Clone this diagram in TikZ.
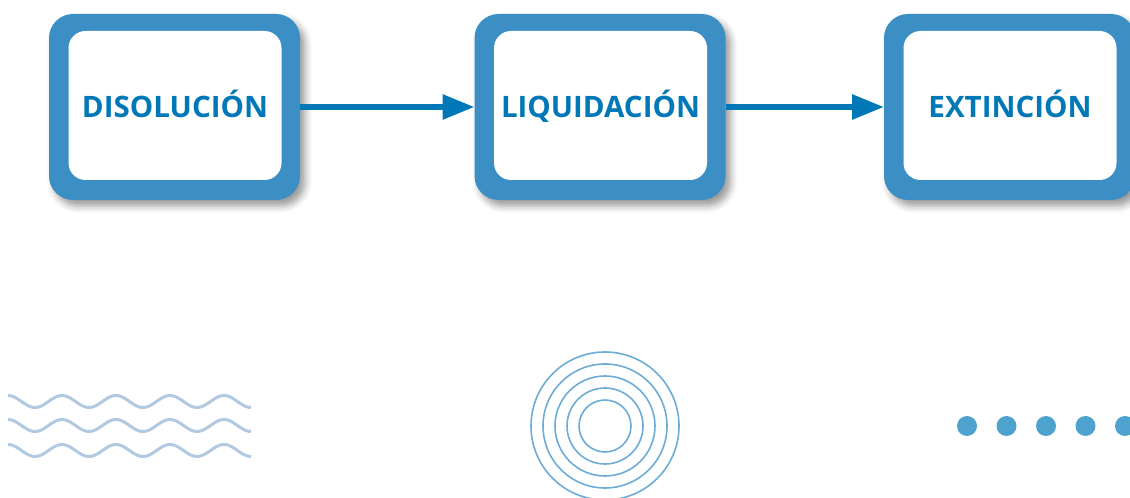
\documentclass[tikz,border=0pt]{standalone}
\usepackage{fontspec}
\setsansfont{Open Sans}
\usetikzlibrary{arrows.meta,shadows.blur}
\definecolor{stageblue}{RGB}{60,143,196}
\definecolor{textblue}{RGB}{0,120,184}
\definecolor{wavegrey}{RGB}{178,201,226}
\definecolor{ringblue}{RGB}{108,172,214}
\definecolor{dotblue}{RGB}{78,163,206}

\begin{document}
\begin{tikzpicture}[x=1pt, y=1pt,
  stage/.style={fill=stageblue, rounded corners=24pt, minimum width=251pt, minimum height=186pt,
    inner sep=0pt, outer sep=0pt,
    blur shadow={shadow xshift=5pt, shadow yshift=-6pt, shadow blur radius=7pt, shadow opacity=40}},
  stagein/.style={fill=white, rounded corners=17pt, minimum width=213pt, minimum height=149pt,
    inner sep=0pt, text height=30pt, text depth=6pt,
    font=\sffamily\bfseries\fontsize{29.5}{34}\selectfont, text=textblue},
  flow/.style={draw=textblue, line width=6pt, -{Triangle[length=32pt, width=24pt]}},
  wave/.style={draw=wavegrey, line width=3pt},
  ring/.style={draw=ringblue, line width=1.6pt}]
\useasboundingbox (0,0) rectangle (1130,498);
% stages
\foreach \n/\x/\t in {dis/174.5/DISOLUCIÓN, liq/600/LIQUIDACIÓN, ext/1009.5/EXTINCIÓN} {
  \node[stage] (\n) at (\x,391) {};
  \node[stagein] (\n-in) at (\x+0.5,392.5) {\t};
}
\draw[flow] (dis) -- (liq);
\draw[flow] (liq) -- (ext);
% ornaments
\foreach \yc in {96.5, 72.5, 47.5} {
  \draw[wave] plot[domain=0:243, samples=120] ({8+\x},{\yc+6*cos(\x/54*360)});
}
\foreach \r in {26,38,...,74} {
  \draw[ring] (605,72) circle (\r pt);
}
\foreach \i in {0,...,4} {
  \fill[dotblue] (967+39.5*\i,72) circle (10pt);
}
\end{tikzpicture}
\end{document}
